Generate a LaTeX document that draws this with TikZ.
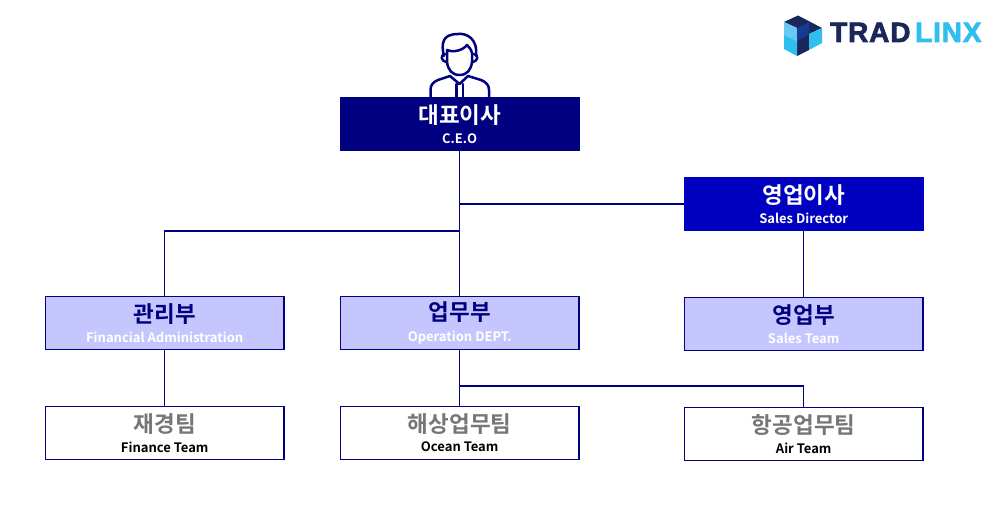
\documentclass[tikz,border=0pt]{standalone}
\usepackage{fontspec}
\setmainfont{Noto Sans CJK KR}[BoldFont={* Bold}]
\newfontfamily\logofont{Liberation Sans}[BoldFeatures={FakeBold=2.5,LetterSpace=3}]
\definecolor{ceoblue}{RGB}{0,0,128}
\definecolor{salesblue}{RGB}{0,0,192}
\definecolor{deptfill}{RGB}{198,198,255}
\definecolor{teamgray}{RGB}{118,118,118}
\definecolor{logonavy}{RGB}{27,39,88}
\definecolor{logosky}{RGB}{46,190,240}
\definecolor{logopale}{RGB}{106,200,245}
\definecolor{logomid}{RGB}{20,60,150}
\tikzset{
  orgbox/.style={draw=ceoblue,line width=1.5pt,minimum width=238.8pt,minimum height=53.4pt,inner sep=0pt,align=center},
  link/.style={draw=ceoblue,line width=1.5pt},
  icon/.style={draw=ceoblue,line width=2.5pt,line join=round,line cap=round}
}
\newcommand{\headtext}[1]{{\fontsize{22.5}{26}\selectfont\bfseries #1}}
\newcommand{\subtext}[1]{{\fontsize{13}{20}\selectfont\bfseries #1}}
\begin{document}
\begin{tikzpicture}[x=1pt,y=-1pt]
\useasboundingbox (0,0) rectangle (1000,513);
% Person
\draw[icon] (430.5,97) -- (430.5,90) .. controls (430.5,85) and (433,82) .. (438,80) -- (450,76) -- (459.5,84) -- (468,76) -- (481,80) .. controls (486,82) and (489,85) .. (489,90) -- (489,97);
\draw[icon] (456.5,97) -- (456.5,84) (463,97) -- (463,84);
\draw[icon] (447,50) -- (447,62) .. controls (448,70) and (452,75) .. (459.5,75) .. controls (467,75) and (471,70) .. (472,62) -- (472,53) .. controls (471,49) and (469,47) .. (467,45) .. controls (463,50) and (454,53) .. (447,50);
\draw[icon] (444,56) .. controls (441,44) and (442,34) .. (458,34) .. controls (466,33) and (478,38) .. (476,56);
\draw[icon] (445,54) .. controls (440,55) and (441,61) .. (446,62);
\draw[icon] (474,54) .. controls (479,55) and (478,61) .. (473,62);
% Boxes
\node[orgbox,fill=ceoblue,text=white] (ceo) at (459.7,124) {\headtext{대표이사}\\[8pt]\subtext{C.E.O}};
\node[orgbox,draw=salesblue,fill=salesblue,text=white] (director) at (803.7,204) {\headtext{영업이사}\\[7pt]\subtext{Sales Director}};
\node[orgbox,fill=deptfill] (finance) at (164.7,323) {\headtext{\textcolor{ceoblue}{관리부}}\\[7pt]\subtext{\textcolor{white}{Financial Administration}}};
\node[orgbox,fill=deptfill] (operation) at (459.7,323) {\headtext{\textcolor{ceoblue}{업무부}}\\[7pt]\subtext{\textcolor{white}{Operation DEPT.}}};
\node[orgbox,fill=deptfill] (sales) at (803.7,324) {\headtext{\textcolor{ceoblue}{영업부}}\\[7pt]\subtext{\textcolor{white}{Sales Team}}};
\node[orgbox,fill=white] (financeteam) at (164.7,433) {\headtext{\textcolor{teamgray}{재경팀}}\\[7pt]\subtext{Finance Team}};
\node[orgbox,fill=white] (ocean) at (459.7,433) {\headtext{\textcolor{teamgray}{해상업무팀}}\\[7pt]\subtext{Ocean Team}};
\node[orgbox,fill=white] (air) at (803.7,434) {\headtext{\textcolor{teamgray}{항공업무팀}}\\[7pt]\subtext{Air Team}};
% Connectors
\draw[link] (ceo) -- (operation);
\draw[link] (ceo.south |- director.west) -- (director.west);
\coordinate (split) at (459.7,231);
\draw[link] (finance.north) |- (split);
\draw[link] (director) -- (sales);
\draw[link] (finance) -- (financeteam);
\draw[link] (operation) -- (ocean);
\coordinate (airsplit) at (459.7,386);
\draw[link] (air.north) |- (airsplit);
% Logo
\fill[logonavy] (784,22) -- (798,15.5) -- (822,28) -- (809,34) -- (809,50) -- (797,56) -- (797,28) -- cycle;
\fill[logopale] (784,22) -- (797,28) -- (797,41) -- (784,35) -- cycle;
\fill[logosky] (784,35) -- (797,41) -- (797,56) -- (784,49) -- cycle;
\fill[logomid] (797,28) -- (809,22) -- (809,34) -- (797,41) -- cycle;
\fill[logosky] (809,34) -- (822,28) -- (822,43) -- (809,50) -- cycle;
\node[font=\logofont\bfseries\fontsize{28}{28}\selectfont,text=logonavy,anchor=base west,inner sep=0pt] (trad) at (830,42) {TRAD};
\node[font=\logofont\bfseries\fontsize{28}{28}\selectfont,text=logosky,anchor=base west,inner sep=0pt] (linx) at (915,42) {LINX};
\end{tikzpicture}
\end{document}
